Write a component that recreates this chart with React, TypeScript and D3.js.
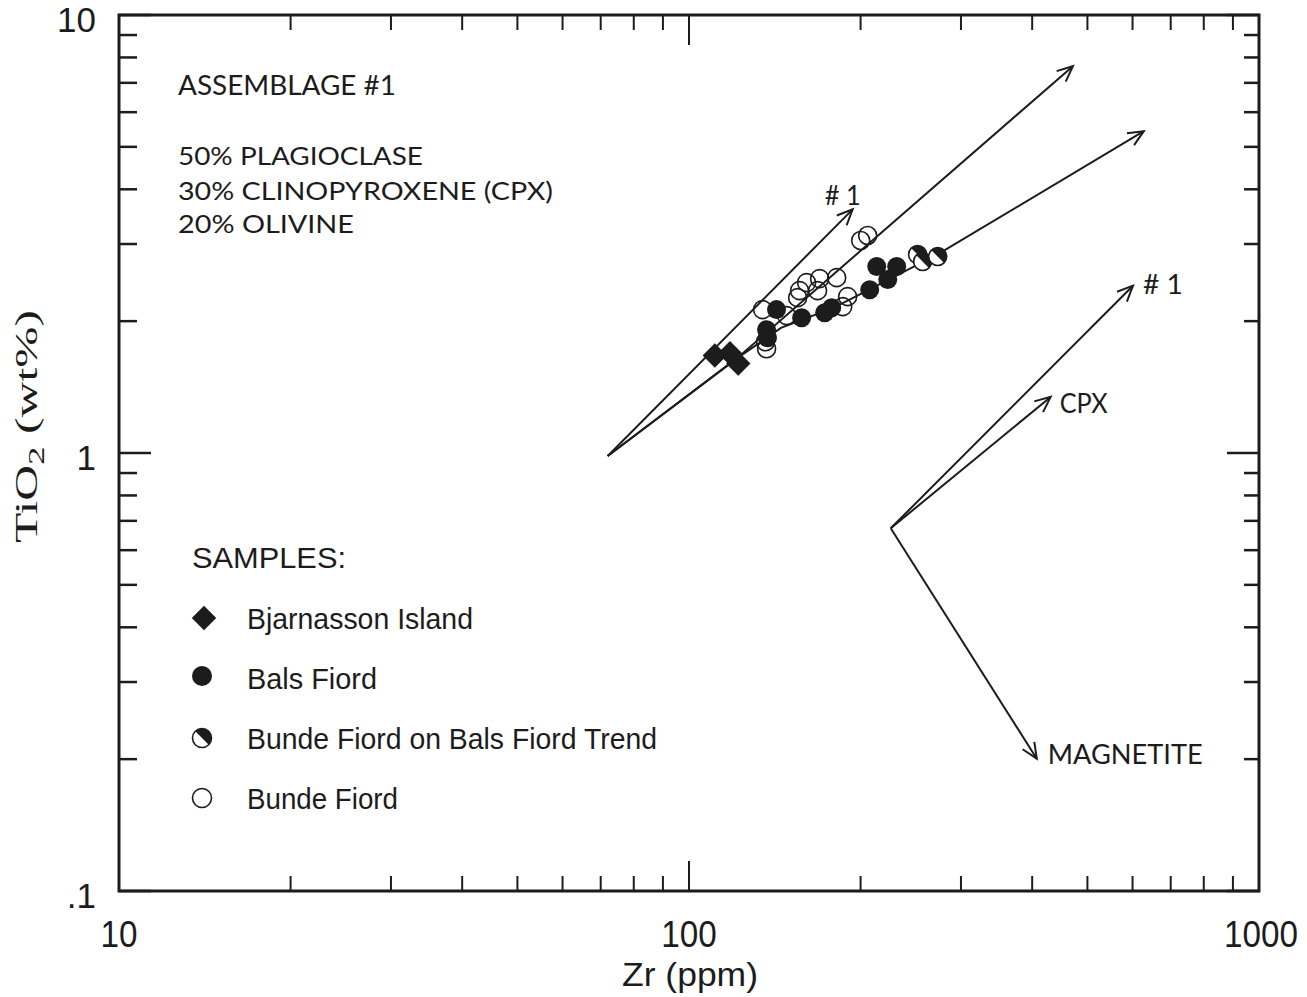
import * as d3 from 'd3';

// Zr (ppm) / TiO2 (wt%)
const bjarnassonZr = [111, 118, 122];
const bjarnassonTi = [1.67, 1.69, 1.6];

const balsZr = [142.4, 136.8, 137.3, 157.6, 173.0, 178.0, 207.5, 213.5, 223.2, 231.4];
const balsTi = [2.125, 1.912, 1.833, 2.037, 2.091, 2.147, 2.36, 2.665, 2.488, 2.665];

const bundeOnBalsZr = [251.8, 257.0, 273.1];
const bundeOnBalsTi = [2.839, 2.736, 2.809];

const bundeZr = [134.6, 148.3, 136.2, 136.8, 155.1, 156.3, 160.8, 168.1, 169.5, 181.6, 189.8, 186.1, 200.1, 205.8];
const bundeTi = [2.125, 2.059, 1.795, 1.73, 2.263, 2.348, 2.449, 2.348, 2.501, 2.514, 2.275, 2.159, 3.056, 3.138];

// model trends starting at the parent composition
const assemblageZr = [72, 193.7];
const assemblageTi = [0.984, 3.6];
const bundeTrendZr = [72, 121, 471.5];
const bundeTrendTi = [0.984, 1.64, 7.64];
const balsTrendZr = [72, 121, 145, 180, 273, 628];
const balsTrendTi = [0.984, 1.64, 1.93, 2.15, 2.84, 5.43];

// mineral vectors
const vectorBaseZr = 225.9;
const vectorBaseTi = 0.673;
const vectorLabels = ['# 1', 'CPX', 'MAGNETITE'];
const vectorZr = [601, 431, 407.5];
const vectorTi = [2.41, 1.343, 0.2005];

const legendLabels = ['Bjarnasson  Island', 'Bals  Fiord', 'Bunde Fiord on Bals Fiord Trend', 'Bunde  Fiord'];
const assemblageLines = ['50% PLAGIOCLASE', '30%  CLINOPYROXENE  (CPX)', '20%  OLIVINE'];

const xTickLabels = ['10', '100', '1000'];
const yTickLabels = ['.1', '1', '10'];

const width = 1307;
const height = 997;
const left = 119;
const right = 1259;
const top = 15;
const bottom = 891;

const ink = '#1c1c1c';
const geo = "Lato, 'Noto Sans', sans-serif";
const sans = "'Liberation Sans', Arial, sans-serif";
const narrow = "'Liberation Sans Narrow', 'Liberation Sans', Arial, sans-serif";

const arrowHead = (x1: number, y1: number, x2: number, y2: number, len = 17, ang = 0.42) => {
  const a = Math.atan2(y2 - y1, x2 - x1);
  return `M${x2 - len * Math.cos(a - ang)},${y2 - len * Math.sin(a - ang)}L${x2},${y2}L${x2 - len * Math.cos(a + ang)},${y2 - len * Math.sin(a + ang)}`;
};

const halfPath = (r: number) => {
  const k = r * Math.SQRT1_2;
  return `M${-k},${-k}A${r},${r} 0 0 1 ${k},${k}Z`;
};

const App = () => {
  const x = d3.scaleLog().domain([10, 1000]).range([left, right]);
  const y = d3.scaleLog().domain([0.1, 10]).range([bottom, top]);

  const line = d3.line<[number, number]>()
    .x(d => x(d[0]))
    .y(d => y(d[1]));

  const zip = (a: number[], b: number[]) => a.map((v, i) => [v, b[i]] as [number, number]);

  const trends = [
    zip(assemblageZr, assemblageTi),
    zip(bundeTrendZr, bundeTrendTi),
    zip(balsTrendZr, balsTrendTi),
  ];

  const xTicks = x.ticks();
  const yTicks = y.ticks();
  const isMajor = (v: number) => Math.abs(Math.log10(v) - Math.round(Math.log10(v))) < 1e-6;

  const diamond = d3.symbol(d3.symbolSquare, 300)();
  const legendDiamond = d3.symbol(d3.symbolSquare, 300)();

  const vx0 = x(vectorBaseZr);
  const vy0 = y(vectorBaseTi);
  const vectorLabelOffset = [[10, 8], [9, 16], [11, 5]];

  return (
    <svg width={width} height={height} style={{ position: 'absolute', left: 0, top: 0, background: '#fff' }}>
      {/* ticks */}
      {xTicks.map((t, i) => {
        const len = isMajor(t) ? 30 : 15;
        return (
          <g key={`xt${i}`} stroke={ink} strokeWidth={2}>
            <line x1={x(t)} x2={x(t)} y1={bottom} y2={bottom - len} />
            <line x1={x(t)} x2={x(t)} y1={top} y2={top + len} />
          </g>
        );
      })}
      {yTicks.map((t, i) => (
        <g key={`yt${i}`} stroke={ink} strokeWidth={2.5}>
          <line x1={left} x2={left + (isMajor(t) ? 32 : 18)} y1={y(t)} y2={y(t)} />
          <line x1={right} x2={right - (isMajor(t) ? 32 : 15)} y1={y(t)} y2={y(t)} />
        </g>
      ))}
      <rect x={left} y={top} width={right - left} height={bottom - top} fill="none" stroke={ink} strokeWidth={3} />

      {/* tick labels */}
      {[10, 100, 1000].map((t, i) => (
        <text key={`xl${i}`} x={x(t) + (i === 2 ? 2 : 0)} y={947} textAnchor="middle" fontFamily={narrow} fontSize={36}
          textLength={xTickLabels[i].length * 18.5} lengthAdjust="spacingAndGlyphs" fill={ink}>
          {xTickLabels[i]}
        </text>
      ))}
      {[0.1, 1, 10].map((t, i) => (
        <text key={`yl${i}`} x={96} y={y(t) + 17} textAnchor="end" fontFamily={sans} fontSize={35} fill={ink}>
          {yTickLabels[i]}
        </text>
      ))}

      {/* axis titles */}
      <text x={690} y={986} textAnchor="middle" fontFamily={narrow} fontSize={34} fill={ink}
        textLength={136} lengthAdjust="spacingAndGlyphs">Zr  (ppm)</text>
      <text transform="translate(37,543) rotate(-90)" fontFamily="'Liberation Serif', 'Times New Roman', serif"
        fontSize={32} fill={ink} textLength={233} lengthAdjust="spacingAndGlyphs">
        TiO<tspan fontSize={24} dy={7}>2</tspan><tspan dy={-7}> (wt%)</tspan>
      </text>

      {/* trend lines */}
      {trends.map((pts, i) => {
        const n = pts.length;
        return (
          <g key={`tr${i}`} fill="none" stroke={ink} strokeWidth={2}>
            <path d={line(pts) ?? ''} />
            <path d={arrowHead(x(pts[n - 2][0]), y(pts[n - 2][1]), x(pts[n - 1][0]), y(pts[n - 1][1]))} />
          </g>
        );
      })}
      <text x={x(assemblageZr[1]) - 28} y={y(assemblageTi[1]) - 4} fontFamily={geo} fontSize={27} fill={ink}
        textLength={36} lengthAdjust="spacingAndGlyphs"># 1</text>

      {/* mineral vectors */}
      {vectorLabels.map((lab, i) => {
        const x2 = x(vectorZr[i]);
        const y2 = y(vectorTi[i]);
        return (
          <g key={`v${i}`}>
            <g fill="none" stroke={ink} strokeWidth={2}>
              <line x1={vx0} y1={vy0} x2={x2} y2={y2} />
              <path d={arrowHead(vx0, vy0, x2, y2)} />
            </g>
            <text x={x2 + vectorLabelOffset[i][0]} y={y2 + vectorLabelOffset[i][1]} fontFamily={geo} fontSize={27}
              fill={ink} textLength={[40, 48, 155][i]} lengthAdjust="spacingAndGlyphs">{lab}</text>
          </g>
        );
      })}

      {/* samples */}
      {bundeZr.map((v, i) => (
        <circle key={`bu${i}`} cx={x(v)} cy={y(bundeTi[i])} r={9} fill="none" stroke={ink} strokeWidth={1.6} />
      ))}
      {balsZr.map((v, i) => (
        <circle key={`ba${i}`} cx={x(v)} cy={y(balsTi[i])} r={9.5} fill={ink} />
      ))}
      {bundeOnBalsZr.map((v, i) => (
        <g key={`bb${i}`} transform={`translate(${x(v)},${y(bundeOnBalsTi[i])})`}>
          <circle r={9} fill="#fff" stroke={ink} strokeWidth={1.6} />
          <path d={halfPath(9)} fill={ink} />
        </g>
      ))}
      {bjarnassonZr.map((v, i) => (
        <path key={`bj${i}`} d={diamond ?? ''} transform={`translate(${x(v)},${y(bjarnassonTi[i])}) rotate(45)`} fill={ink} />
      ))}

      {/* assemblage note */}
      <text x={178} y={95} fontFamily={geo} fontSize={27} fill={ink} textLength={218} lengthAdjust="spacingAndGlyphs">
        ASSEMBLAGE  #1
      </text>
      {assemblageLines.map((t, i) => (
        <text key={`as${i}`} x={178} y={[165, 200, 233][i]} fontFamily={geo} fontSize={25} fill={ink}
          textLength={[245, 375, 176][i]} lengthAdjust="spacingAndGlyphs">{t}</text>
      ))}

      {/* legend */}
      <text x={192} y={568} fontFamily={sans} fontSize={30} fill={ink} textLength={154} lengthAdjust="spacingAndGlyphs">SAMPLES:</text>
      {legendLabels.map((t, i) => {
        const cy = 618 + i * 60;
        return (
          <g key={`lg${i}`}>
            {i === 0 && <path d={legendDiamond ?? ''} transform={`translate(204,${cy}) rotate(45)`} fill={ink} />}
            {i === 1 && <circle cx={202} cy={cy - 2} r={10} fill={ink} />}
            {i === 2 && (
              <g transform={`translate(202,${cy})`}>
                <circle r={9.5} fill="#fff" stroke={ink} strokeWidth={1.6} />
                <path d={halfPath(9.5)} fill={ink} />
              </g>
            )}
            {i === 3 && <circle cx={202} cy={cy} r={9.5} fill="none" stroke={ink} strokeWidth={1.6} />}
            <text x={247} y={cy + 11} fontFamily={sans} fontSize={29} fill={ink}
              textLength={[226, 130, 410, 151][i]} lengthAdjust="spacingAndGlyphs">{t}</text>
          </g>
        );
      })}
    </svg>
  );
};

export default App;
